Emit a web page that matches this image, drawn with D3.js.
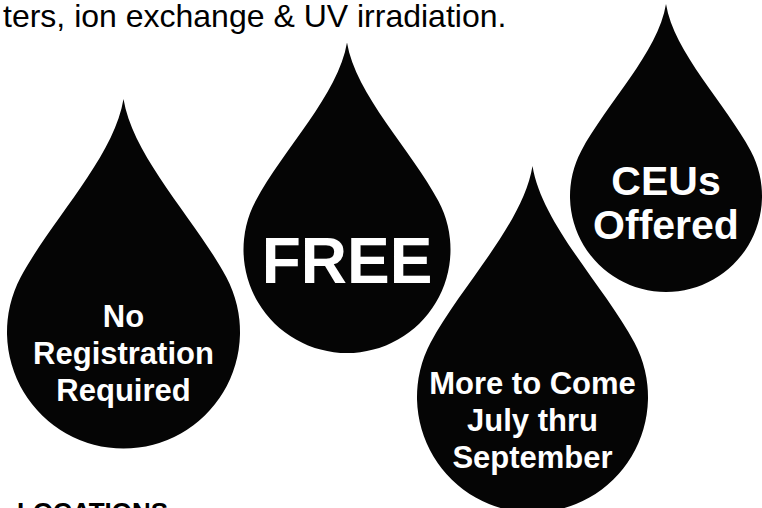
<!DOCTYPE html>
<html>
<head>
<meta charset="utf-8">
<script src="https://cdn.jsdelivr.net/npm/d3@7"></script>
<style>
    html, body { margin: 0; padding: 0; background: #fff; overflow: hidden; }
    svg { display: block; }
</style>
</head>
<body>
<svg id="chart"></svg>
<script>
// the text pieces of the flyer
const headerText = "ters, ion exchange & UV irradiation.";
const footerText = "LOCATIONS";
const dropNames = ["registration", "free", "more", "ceus"];
const dropLabels = [
    ["No", "Registration", "Required"],
    ["FREE"],
    ["More to Come", "July thru", "September"],
    ["CEUs", "Offered"]
];

class DropSee {
    constructor(svg) {
        this.svg = svg;
        this.drawFlyer();
    }

    drawFlyer(){
        this.setShapeData();
        this.setColors();
        this.renderDrops();
        this.renderDropText();
        this.renderHeader();
    }

    setShapeData(){
        // drop body is a circle, tip sits 2 radii above its centre
        const layout = [
            { cx: 123.5, cy: 332, r: 116.5, font: 31, lineGap: 37, firstBase: 327 },
            { cx: 347, cy: 249.5, r: 103.5, font: 64, lineGap: 0, firstBase: 283 },
            { cx: 532.5, cy: 397, r: 115.5, font: 31, lineGap: 37, firstBase: 394 },
            { cx: 666, cy: 196, r: 96, font: 41, lineGap: 44, firstBase: 195 }
        ];

        this.dropData = dropNames.map((name, i) => Object.assign({ name: name, lines: dropLabels[i] }, layout[i]));
    }

    setColors(){
        this.dropColor = "#050505";
        this.dropTextColor = "#ffffff";
        this.textColor = "#000000";
    }

    dropPath(d){
        // unit drop scaled to the circle through d3 scales
        const x = d3.scaleLinear().domain([-1, 1]).range([d.cx - d.r, d.cx + d.r]);
        const y = d3.scaleLinear().domain([-1, 1]).range([d.cy - d.r, d.cy + d.r]);
        const a = 28 * Math.PI / 180;
        const px = Math.cos(a), py = -Math.sin(a);
        const k = 0.55;
        const c2x = px - k * Math.sin(a), c2y = py - k * Math.cos(a);

        const p = d3.path();
        p.moveTo(x(0), y(-2));
        p.bezierCurveTo(x(0.08), y(-1.5), x(c2x), y(c2y), x(px), y(py));
        p.arc(x(0), y(0), d.r, -a, Math.PI + a, false);
        p.bezierCurveTo(x(-c2x), y(c2y), x(-0.08), y(-1.5), x(0), y(-2));
        p.closePath();
        return p.toString();
    }

    renderDrops(){
        const drop = this.svg.selectAll("path.drop")
            .data(this.dropData, d => d.name);

        drop.enter().append("path")
            .attr("class", "drop")
            .attr("fill", this.dropColor)
            .attr("d", d => this.dropPath(d));
    }

    renderDropText(){
        const g = this.svg.selectAll("g.drop-text")
            .data(this.dropData, d => d.name)
            .enter().append("g")
            .attr("class", "drop-text");

        g.selectAll("text")
            .data(d => d.lines.map((t, i) => ({ text: t, x: d.cx, y: d.firstBase + i * d.lineGap, font: d.font })))
            .enter().append("text")
            .attr("x", t => t.x)
            .attr("y", t => t.y)
            .attr("text-anchor", "middle")
            .attr("font-family", "'Liberation Sans', Arial, sans-serif")
            .attr("font-weight", "bold")
            .attr("font-size", t => t.font)
            .attr("fill", this.dropTextColor)
            .text(t => t.text);
    }

    renderHeader(){
        this.svg.append("text")
            .attr("x", 3)
            .attr("y", 27)
            .attr("font-family", "'Liberation Sans', Arial, sans-serif")
            .attr("font-size", 32)
            .attr("fill", this.textColor)
            .text(headerText);

        this.svg.append("text")
            .attr("x", 17)
            .attr("y", 521)
            .attr("font-family", "'Liberation Sans', Arial, sans-serif")
            .attr("font-weight", "bold")
            .attr("font-size", 26)
            .attr("fill", this.textColor)
            .text(footerText);
    }
}

const svg = d3.select("#chart")
    .attr("width", 762)
    .attr("height", 508);

new DropSee(svg);
</script>
</body>
</html>
